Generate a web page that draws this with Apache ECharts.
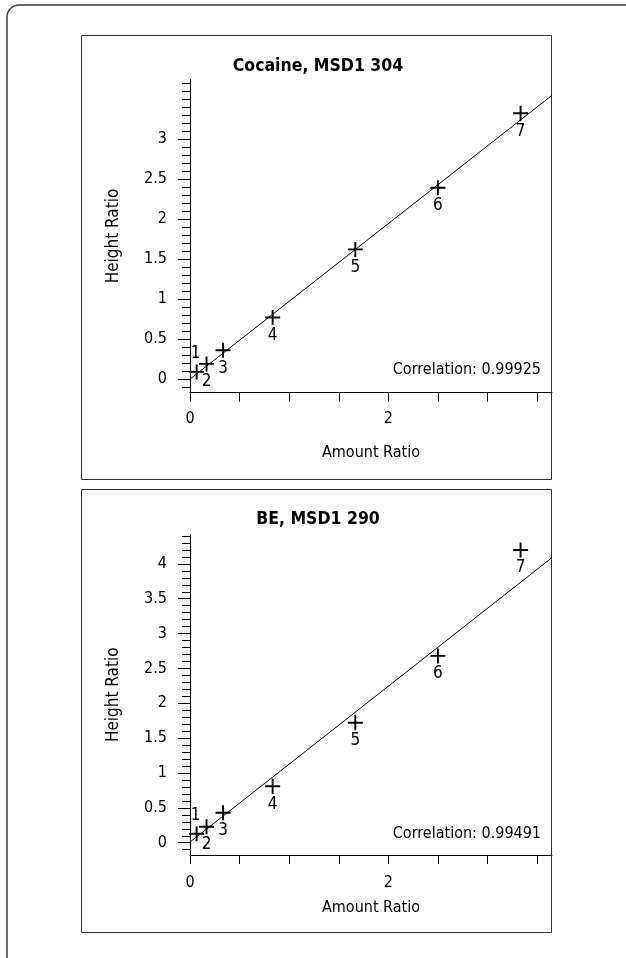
<!DOCTYPE html>
<html>
<head>
<meta charset="utf-8">
<script src="https://cdn.jsdelivr.net/npm/echarts@6/dist/echarts.min.js"></script>
<style>
html,body{margin:0;padding:0;background:#fff;}
#chart{width:626px;height:958px;}
</style>
</head>
<body>
<div id="chart"></div>
<script>
// ---- data ----
const amountRatio = [0.0667, 0.1667, 0.3333, 0.8333, 1.6667, 2.5, 3.3333];
const cocaineHeight = [0.09, 0.19, 0.36, 0.77, 1.62, 2.39, 3.32];
const beHeight = [0.13, 0.23, 0.43, 0.81, 1.72, 2.68, 4.2];
const pointNames = ['1', '2', '3', '4', '5', '6', '7'];
const cocaineFitX = [0, 3.65];
const cocaineFitY = [0, 3.545];
const beFitX = [0, 3.65];
const beFitY = [0.01, 4.09];
const xTickValues = [0, 0.5, 1, 1.5, 2, 2.5, 3, 3.5];
const xLabelValues = [0, 2];
const cocaineYLabels = [0, 0.5, 1, 1.5, 2, 2.5, 3];
const beYLabels = [0, 0.5, 1, 1.5, 2, 2.5, 3, 3.5, 4];
const cocaineMinor = [-0.1,0,0.1,0.2,0.3,0.4,0.5,0.6,0.7,0.8,0.9,1,1.1,1.2,1.3,1.4,1.5,1.6,1.7,1.8,1.9,2,2.1,2.2,2.3,2.4,2.5,2.6,2.7,2.8,2.9,3,3.1,3.2,3.3,3.4,3.5,3.6,3.7];
const beMinor = [-0.1,0,0.1,0.2,0.3,0.4,0.5,0.6,0.7,0.8,0.9,1,1.1,1.2,1.3,1.4,1.5,1.6,1.7,1.8,1.9,2,2.1,2.2,2.3,2.4,2.5,2.6,2.7,2.8,2.9,3,3.1,3.2,3.3,3.4,3.5,3.6,3.7,3.8,3.9,4,4.1,4.2,4.3,4.4];
const titles = ['Cocaine, MSD1 304', 'BE, MSD1 290'];
const correlations = ['Correlation: 0.99925', 'Correlation: 0.99491'];
const xName = 'Amount Ratio';
const yName = 'Height Ratio';

// ---- styles ----
const FONT = "'Liberation Sans Narrow', 'DejaVu Sans Condensed', 'Liberation Sans', sans-serif";
const FS = 16;
const INK = '#000';
const CROSS = 'path://M6.1,0H7.9V6.1H14V7.9H7.9V14H6.1V7.9H0V6.1H6.1Z';

function pts(xs, ys) {
  return xs.map((x, i) => {
    const item = { value: [x, ys[i]], name: pointNames[i] };
    if (i === 0) item.label = { position: 'top', distance: 2, offset: [-1, 0] };
    return item;
  });
}
function fit(xs, ys) { return xs.map((x, i) => [x, ys[i]]); }

const grids = [
  { left: 190, right: 74, top: 79.3, height: 313.4 },
  { left: 190, right: 74, top: 534.6, height: 320.4 }
];
const yRanges = [[-0.17, 3.745], [-0.176, 4.42]];
const yLabels = [cocaineYLabels, beYLabels];
const yMinor = [cocaineMinor, beMinor];
const xNameGaps = [52, 45];
const xLabelMargins = [18, 20];

const xAxes = [], yAxes = [];
[0, 1].forEach(g => {
  xAxes.push({
    type: 'value', gridIndex: g, min: 0, max: 3.65,
    name: xName, nameLocation: 'middle', nameGap: xNameGaps[g],
    nameTextStyle: { fontFamily: FONT, fontSize: FS, color: INK },
    axisLine: { onZero: false, lineStyle: { color: INK, width: 1 } },
    axisTick: { customValues: xTickValues, length: 9, lineStyle: { color: INK } },
    axisLabel: { customValues: xLabelValues, fontFamily: FONT, fontSize: FS, color: INK, margin: xLabelMargins[g] },
    splitLine: { show: false }
  });
  yAxes.push({
    type: 'value', gridIndex: g, position: 'left', min: yRanges[g][0], max: yRanges[g][1],
    name: yName, nameLocation: 'middle', nameGap: 68, nameRotate: 90,
    nameTextStyle: { fontFamily: FONT, fontSize: FS + 1, color: INK },
    axisLine: { onZero: false, lineStyle: { color: INK, width: 1 } },
    axisTick: { customValues: yLabels[g], length: 12, lineStyle: { color: INK } },
    axisLabel: { customValues: yLabels[g], fontFamily: FONT, fontSize: FS, color: INK, margin: 23,
      formatter: v => String(v) },
    splitLine: { show: false }
  });
  yAxes.push({
    type: 'value', gridIndex: g, position: 'left', offset: 0, min: yRanges[g][0], max: yRanges[g][1],
    axisLine: { show: false, onZero: false },
    axisTick: { customValues: yMinor[g], length: 8, lineStyle: { color: INK } },
    axisLabel: { show: false },
    splitLine: { show: false }
  });
});

const scatterBase = {
  type: 'scatter', symbol: CROSS, symbolSize: 15,
  itemStyle: { color: INK, opacity: 1 },
  label: { show: true, position: 'bottom', distance: 2, formatter: p => p.name,
    fontFamily: FONT, fontSize: 17, color: INK, opacity: 1 },
  emphasis: { disabled: true }, z: 5
};
const lineBase = {
  type: 'line', symbol: 'none', lineStyle: { color: INK, width: 1 },
  emphasis: { disabled: true }, z: 4, clip: true
};

const option = {
  animation: false,
  backgroundColor: '#fff',
  title: [
    { text: titles[0], left: 313, top: 52, textAlign: 'center',
      textStyle: { fontFamily: FONT, fontSize: 17.5, fontWeight: 'bold', color: INK } },
    { text: titles[1], left: 313, top: 505, textAlign: 'center',
      textStyle: { fontFamily: FONT, fontSize: 17.5, fontWeight: 'bold', color: INK } }
  ],
  grid: grids,
  xAxis: xAxes,
  yAxis: yAxes,
  series: [
    Object.assign({}, lineBase, { xAxisIndex: 0, yAxisIndex: 0, data: fit(cocaineFitX, cocaineFitY) }),
    Object.assign({}, scatterBase, { xAxisIndex: 0, yAxisIndex: 0, data: pts(amountRatio, cocaineHeight) }),
    Object.assign({}, lineBase, { xAxisIndex: 1, yAxisIndex: 2, data: fit(beFitX, beFitY) }),
    Object.assign({}, scatterBase, { xAxisIndex: 1, yAxisIndex: 2, data: pts(amountRatio, beHeight) })
  ],
  graphic: [
    { type: 'rect', shape: { x: 7, y: 5, width: 700, height: 1000, r: 12 }, silent: true, z: -10,
      style: { fill: 'none', stroke: '#3a3a3a', lineWidth: 1.5 } },
    { type: 'rect', shape: { x: 81.5, y: 35.5, width: 470, height: 444 }, silent: true, z: -9,
      style: { fill: 'none', stroke: '#333', lineWidth: 1 } },
    { type: 'rect', shape: { x: 81.5, y: 489.5, width: 470, height: 443 }, silent: true, z: -9,
      style: { fill: 'none', stroke: '#333', lineWidth: 1 } },
    { type: 'text', x: 541, y: 370, silent: true,
      style: { text: correlations[0], fontFamily: FONT, fontSize: FS, fill: INK, align: 'right', verticalAlign: 'middle' } },
    { type: 'text', x: 541, y: 834, silent: true,
      style: { text: correlations[1], fontFamily: FONT, fontSize: FS, fill: INK, align: 'right', verticalAlign: 'middle' } }
  ]
};

const chart = echarts.init(document.getElementById('chart'), null, { renderer: 'canvas' });
chart.setOption(option);
</script>
</body>
</html>
